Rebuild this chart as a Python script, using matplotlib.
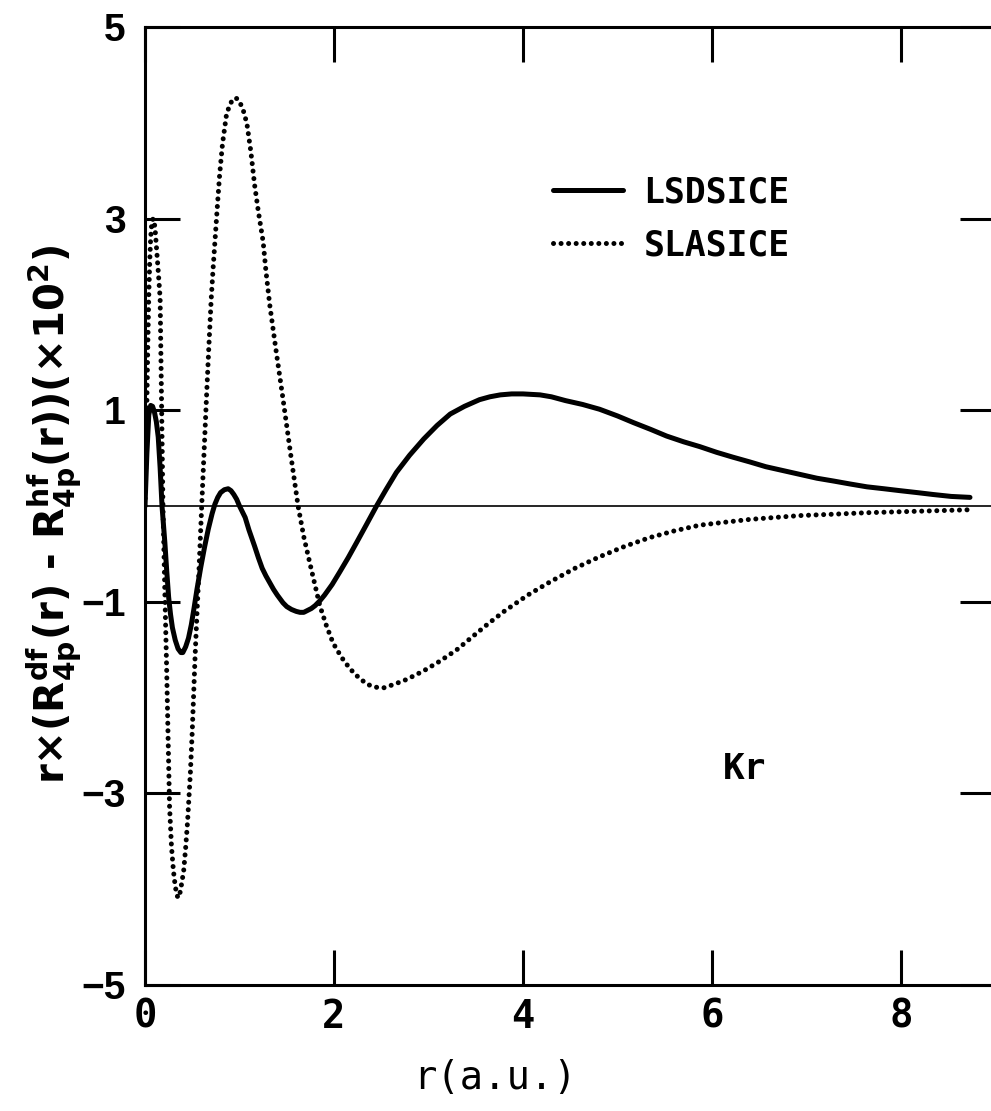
import matplotlib
matplotlib.use("Agg")
import matplotlib.pyplot as plt
from matplotlib import font_manager

# LSDSICE curve (solid)
r_lsd = [0.0, 0.02, 0.04, 0.06, 0.08, 0.10, 0.12, 0.14, 0.16, 0.18, 0.21, 0.23,
         0.25, 0.27, 0.29, 0.32, 0.35, 0.38, 0.40, 0.43, 0.46, 0.49, 0.52, 0.55,
         0.59, 0.63, 0.67, 0.71, 0.74, 0.77, 0.80, 0.84, 0.88, 0.91, 0.94, 0.97,
         1.00, 1.03, 1.06, 1.10, 1.16, 1.20, 1.24, 1.28, 1.32, 1.36, 1.40, 1.46,
         1.50, 1.55, 1.60, 1.64, 1.68, 1.72, 1.76, 1.80, 1.85, 1.90, 1.98, 2.06,
         2.15, 2.24, 2.34, 2.45, 2.55, 2.66, 2.80, 2.95, 3.09, 3.23, 3.38, 3.54,
         3.65, 3.76, 3.88, 4.00, 4.18, 4.30, 4.45, 4.63, 4.81, 5.00, 5.17, 5.35,
         5.52, 5.70, 5.87, 6.05, 6.22, 6.40, 6.57, 6.75, 6.93, 7.11, 7.29, 7.46,
         7.64, 7.82, 7.99, 8.17, 8.34, 8.53, 8.73]
d_lsd = [0.0, 0.55, 0.95, 1.05, 1.04, 0.98, 0.88, 0.72, 0.40, 0.0, -0.38, -0.68,
         -0.95, -1.13, -1.27, -1.40, -1.49, -1.53, -1.53, -1.47, -1.38, -1.24, -1.06, -0.87,
         -0.64, -0.43, -0.24, -0.08, 0.02, 0.09, 0.14, 0.17, 0.18, 0.16, 0.12, 0.07,
         0.0, -0.06, -0.12, -0.25, -0.42, -0.54, -0.65, -0.73, -0.80, -0.87, -0.93, -1.01,
         -1.05, -1.08, -1.10, -1.11, -1.11, -1.09, -1.07, -1.04, -0.99, -0.93, -0.82, -0.69,
         -0.54, -0.38, -0.20, 0.0, 0.17, 0.35, 0.53, 0.70, 0.84, 0.96, 1.04, 1.11,
         1.14, 1.16, 1.17, 1.17, 1.16, 1.14, 1.10, 1.06, 1.01, 0.94, 0.87, 0.80,
         0.73, 0.67, 0.62, 0.56, 0.51, 0.46, 0.41, 0.37, 0.33, 0.29, 0.26, 0.23,
         0.20, 0.18, 0.16, 0.14, 0.12, 0.10, 0.09]

# SLASICE curve (dotted)
r_sla = [0.0, 0.01, 0.02, 0.03, 0.04, 0.05, 0.06, 0.07, 0.085, 0.10, 0.11, 0.125,
         0.14, 0.16, 0.175, 0.19, 0.21, 0.23, 0.245, 0.26, 0.28, 0.30, 0.32, 0.34,
         0.355, 0.37, 0.39, 0.41, 0.43, 0.45, 0.48, 0.50, 0.53, 0.55, 0.57, 0.60,
         0.625, 0.65, 0.675, 0.70, 0.72, 0.74, 0.765, 0.79, 0.82, 0.86, 0.89, 0.92,
         0.95, 0.98, 1.02, 1.05, 1.08, 1.12, 1.16, 1.20, 1.25, 1.28, 1.32, 1.39,
         1.46, 1.54, 1.62, 1.68, 1.75, 1.85, 1.92, 1.99, 2.08, 2.17, 2.26, 2.35,
         2.43, 2.52, 2.64, 2.77, 2.95, 3.12, 3.30, 3.47, 3.63, 3.80, 4.05, 4.29,
         4.55, 4.81, 5.08, 5.34, 5.60, 5.87, 6.13, 6.40, 6.66, 6.93, 7.30, 7.64,
         8.17, 8.70]
d_sla = [0.0, 0.55, 1.1, 1.7, 2.2, 2.55, 2.8, 2.93, 3.0, 2.95, 2.85, 2.65,
         2.45, 2.17, 1.1, 0.0, -0.9, -1.74, -2.45, -3.14, -3.55, -3.80, -3.97, -4.07,
         -4.09, -4.04, -3.93, -3.80, -3.57, -3.30, -2.79, -2.35, -1.57, -1.12, -0.70, 0.0,
         0.56, 1.12, 1.65, 2.15, 2.47, 2.76, 3.12, 3.46, 3.78, 4.07, 4.17, 4.23,
         4.26, 4.25, 4.18, 4.10, 3.98, 3.70, 3.35, 3.07, 2.76, 2.45, 2.10, 1.60,
         1.12, 0.55, 0.0, -0.32, -0.62, -1.04, -1.25, -1.43, -1.58, -1.70, -1.79, -1.86,
         -1.89, -1.90, -1.86, -1.81, -1.72, -1.62, -1.50, -1.36, -1.23, -1.10, -0.93, -0.79,
         -0.65, -0.53, -0.42, -0.33, -0.26, -0.20, -0.17, -0.14, -0.12, -0.10, -0.085, -0.07,
         -0.055, -0.04]

x_ticks = [0, 2, 4, 6, 8]
y_ticks = [-5, -3, -1, 1, 3, 5]
y_ticklabels = ["\u22125", "\u22123", "\u22121", "1", "3", "5"]

installed = {f.name for f in font_manager.fontManager.ttflist}
narrow = "Liberation Sans Narrow" if "Liberation Sans Narrow" in installed else "DejaVu Sans Mono"

plt.rcParams["mathtext.fontset"] = "custom"
plt.rcParams["mathtext.rm"] = "DejaVu Sans:bold"
plt.rcParams["mathtext.it"] = "DejaVu Sans:bold"
plt.rcParams["mathtext.default"] = "rm"

fig = plt.figure(figsize=(9.91, 11.11), dpi=100)
ax = fig.add_axes([145 / 991, 126 / 1111, 850.5 / 991, 958 / 1111])

ax.axhline(0, color="black", lw=1.2, zorder=1)
ax.plot(r_lsd, d_lsd, color="black", lw=3.6, solid_capstyle="round",
        solid_joinstyle="round", label="LSDSICE", zorder=3)
ax.plot(r_sla, d_sla, color="black", lw=3.6, linestyle=(0, (0.01, 1.5)),
        dash_capstyle="round", label="SLASICE", zorder=2)

ax.set_xlim(0, 9)
ax.set_ylim(-5, 5)
ax.set_xticks(x_ticks)
ax.set_xticklabels([str(v) for v in x_ticks], fontsize=28, fontweight="bold", family=narrow)
ax.set_yticks(y_ticks)
ax.set_yticklabels(y_ticklabels, fontsize=28, fontweight="bold", family="Liberation Sans")

for s in ax.spines.values():
    s.set_linewidth(2.2)
ax.tick_params(axis="both", direction="in", length=25, width=2.2, top=True, right=True)
ax.tick_params(axis="y", pad=14)
ax.tick_params(axis="x", pad=9)

ax.set_xlabel("r(a.u.)", fontsize=28, family="DejaVu Sans Mono", va="center")
ax.xaxis.set_label_coords((495 - 145) / 850.5, (985 - 1078) / 958)
ax.set_ylabel(r"r$\times$(R$^{df}_{4p}$(r) - R$^{hf}_{4p}$(r))($\times$10$^{2}$)",
              fontsize=29, fontweight="bold", va="center")
ax.yaxis.set_label_coords((55 - 145) / 850.5, (985 - 515) / 958)

ax.text(6.35, -2.75, "Kr", fontsize=26, family=narrow, fontweight="bold",
        ha="center", va="center")

leg = ax.legend(loc="upper left", bbox_to_anchor=(0.48, 0.845), frameon=False,
                prop={"family": narrow, "weight": "bold", "size": 25},
                handlelength=2.0, handletextpad=0.6, labelspacing=0.55,
                borderpad=0, borderaxespad=0)

fig.savefig("out.png", dpi=100)
